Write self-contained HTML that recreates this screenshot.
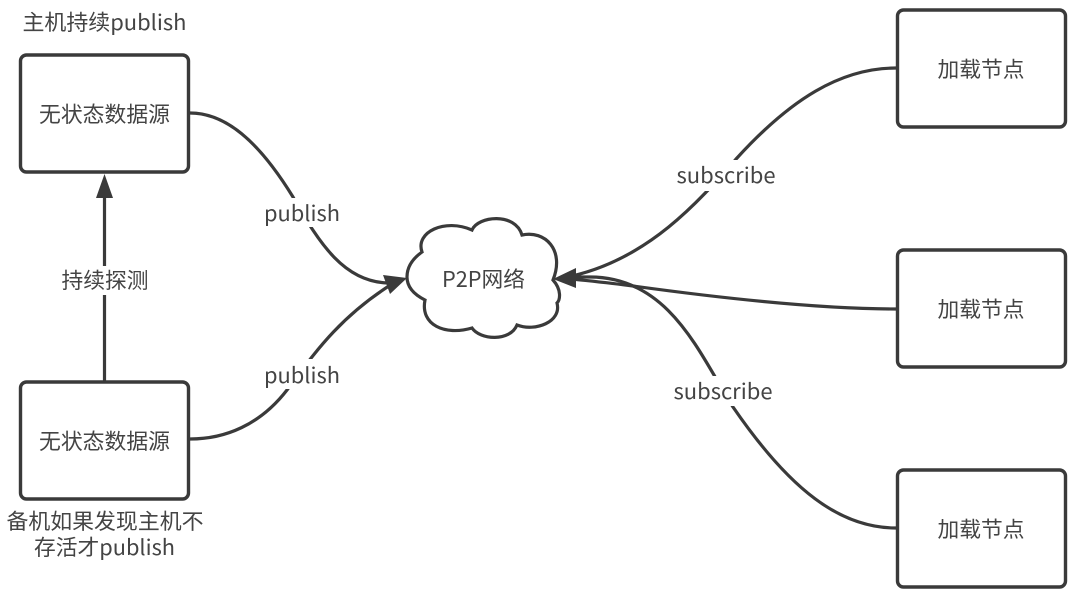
<!DOCTYPE html>
<html><head><meta charset="utf-8"><style>
html,body{margin:0;padding:0;background:#fff;width:1080px;height:604px;overflow:hidden}
svg{display:block;filter:blur(.35px)}
text{font-family:"Noto Sans CJK SC","Liberation Sans",sans-serif;font-size:21.5px;fill:#444;text-anchor:middle}
.b{fill:#fff;stroke:#3a3a3a;stroke-width:3.4}
.l{fill:none;stroke:#3a3a3a;stroke-width:3.2}
.a{fill:#3a3a3a;stroke:none}
.bg{fill:#fff;stroke:none}
</style></head><body>
<svg width="1080" height="604" viewBox="0 0 1080 604" xmlns="http://www.w3.org/2000/svg">
<rect class="b" x="20.500" y="55" width="168" height="117" rx="6"/>
<rect class="b" x="20.500" y="382" width="168" height="117" rx="6"/>
<rect class="b" x="897.500" y="10" width="168" height="117" rx="6"/>
<rect class="b" x="897.500" y="250" width="168" height="117" rx="6"/>
<rect class="b" x="897.500" y="470" width="168" height="117" rx="6"/>

<path class="l" d="M104.500 381V195"/>
<path class="l" d="M190 113C225 113 258 140 293 197C320 245 345 282 388 283"/>
<path class="l" d="M190 439C225 439 260 425 287 390C310 360 335 320 392 284"/>
<path class="l" d="M896 68C840 68 790 100 737 158C700 200 650 258 572 276"/>
<path class="l" d="M896 309C820 309 720 298 633 286C610 283 590 281 572 279"/>
<path class="l" d="M896 528C840 528 790 490 733 407C700 355 670 277 590 277L572 277"/>

<path d="M407 277C407 265 415 257 422 252C415 232 445 218 472 230C478 216 515 212 522 235C545 230 565 250 553 280C562 290 560 300 557 303C562 322 535 332 517 325C510 342 480 340 472 328C445 336 420 325 425 300C415 295 407 288 407 277Z" fill="#fff" stroke="#3a3a3a" stroke-width="3.200"/>

<path class="a" d="M104.500 174L113 198H96Z"/>
<path class="a" d="M407 278L390 294L383 275Z"/>
<path class="a" d="M553 279L576 268L576 288Z"/>

<rect class="bg" x="260" y="198" width="84" height="29"/>
<rect class="bg" x="260" y="359" width="84" height="30"/>
<rect class="bg" x="60" y="266" width="92" height="29"/>
<rect class="bg" x="673" y="160" width="106" height="31"/>
<rect class="bg" x="670" y="376" width="108" height="30"/>

<text x="104.500" y="30" textLength="164" lengthAdjust="spacingAndGlyphs">主机持续publish</text>
<text x="104.500" y="122" textLength="131" lengthAdjust="spacingAndGlyphs">无状态数据源</text>
<text x="104.500" y="449" textLength="131" lengthAdjust="spacingAndGlyphs">无状态数据源</text>
<text x="105" y="529" textLength="197" lengthAdjust="spacingAndGlyphs">备机如果发现主机不</text>
<text x="104.500" y="555" textLength="141" lengthAdjust="spacingAndGlyphs">存活才publish</text>
<text x="105" y="288" textLength="87" lengthAdjust="spacingAndGlyphs">持续探测</text>
<text x="302" y="221" textLength="76" lengthAdjust="spacingAndGlyphs">publish</text>
<text x="302" y="383" textLength="76" lengthAdjust="spacingAndGlyphs">publish</text>
<text x="483.500" y="287" textLength="83" lengthAdjust="spacingAndGlyphs">P2P网络</text>
<text x="726" y="183" textLength="99" lengthAdjust="spacingAndGlyphs">subscribe</text>
<text x="723" y="399" textLength="99" lengthAdjust="spacingAndGlyphs">subscribe</text>
<text x="981" y="77" textLength="87" lengthAdjust="spacingAndGlyphs">加载节点</text>
<text x="981" y="317" textLength="87" lengthAdjust="spacingAndGlyphs">加载节点</text>
<text x="981" y="537" textLength="87" lengthAdjust="spacingAndGlyphs">加载节点</text>
</svg>
</body></html>
